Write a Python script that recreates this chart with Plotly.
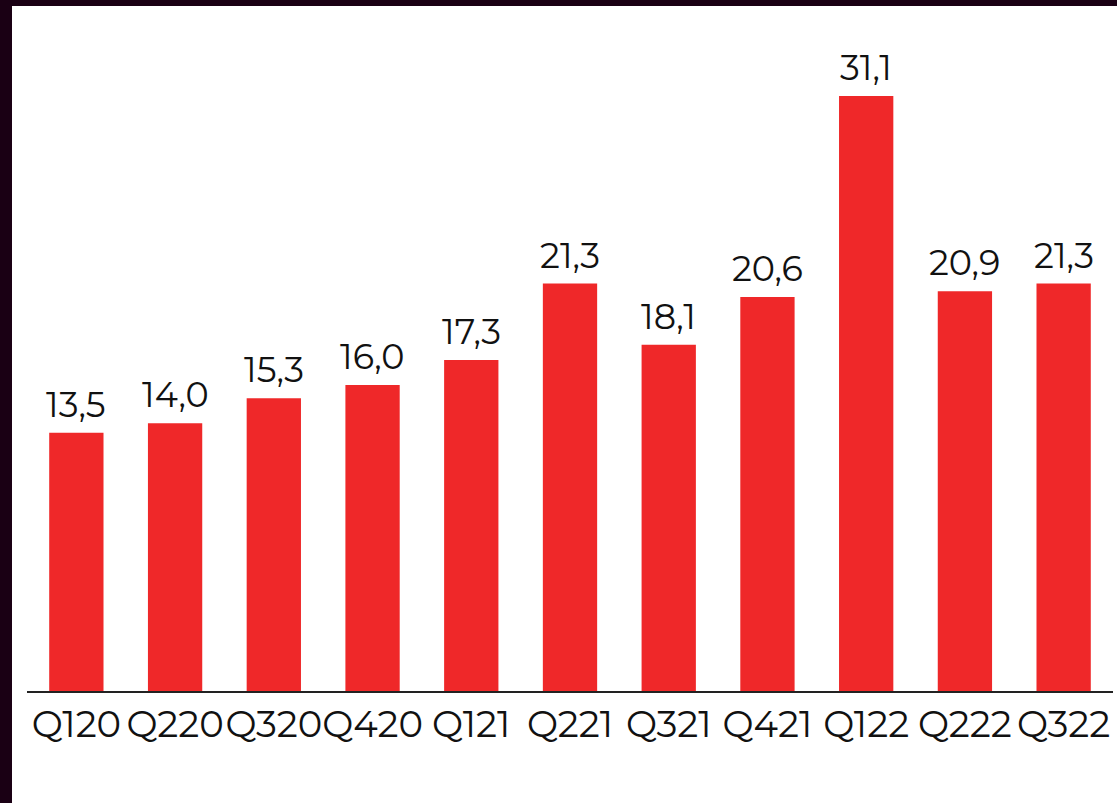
import plotly.graph_objects as go

# Quarterly values
quarters = ["Q120", "Q220", "Q320", "Q420", "Q121", "Q221", "Q321", "Q421", "Q122", "Q222", "Q322"]
values = [13.5, 14.0, 15.3, 16.0, 17.3, 21.3, 18.1, 20.6, 31.1, 20.9, 21.3]
value_labels = ["13,5", "14,0", "15,3", "16,0", "17,3", "21,3", "18,1", "20,6", "31,1", "20,9", "21,3"]

FONT = "Montserrat, Noto Sans, sans-serif"
BAR_RED = "#EF2829"
FRAME = "#1a0014"

fig = go.Figure(
    go.Bar(
        x=quarters,
        y=values,
        marker=dict(color=BAR_RED, line=dict(width=0)),
        width=0.55,
        hovertext=value_labels,
    )
)

# value labels sitting just above each bar
for q, v, lab in zip(quarters, values, value_labels):
    fig.add_annotation(
        x=q, y=v, text=lab, showarrow=False,
        xanchor="center", yanchor="bottom", yshift=5,
        font=dict(family=FONT, size=35, color="#111111"),
    )

fig.update_layout(
    width=1117,
    height=803,
    margin=dict(l=27, r=4, t=6, b=112),
    paper_bgcolor=FRAME,
    plot_bgcolor="white",
    showlegend=False,
    font=dict(family=FONT, color="#111111"),
    shapes=[
        # white card behind the chart, leaving a dark frame on top and left
        dict(
            type="rect", xref="paper", yref="paper",
            x0=(12 - 27) / 1086, x1=1.01, y0=-0.5, y1=1.0,
            fillcolor="white", line=dict(width=0), layer="below",
        )
    ],
)

fig.update_xaxes(
    type="category",
    showline=True,
    linecolor="#222222",
    linewidth=2,
    ticks="",
    tickangle=0,
    tickfont=dict(family=FONT, size=37, color="#111111"),
    showgrid=False,
    range=[-0.5, 10.5],
)
fig.update_yaxes(
    range=[0, 35.81],
    visible=False,
    showgrid=False,
    zeroline=False,
)

fig.write_html("out.html")
